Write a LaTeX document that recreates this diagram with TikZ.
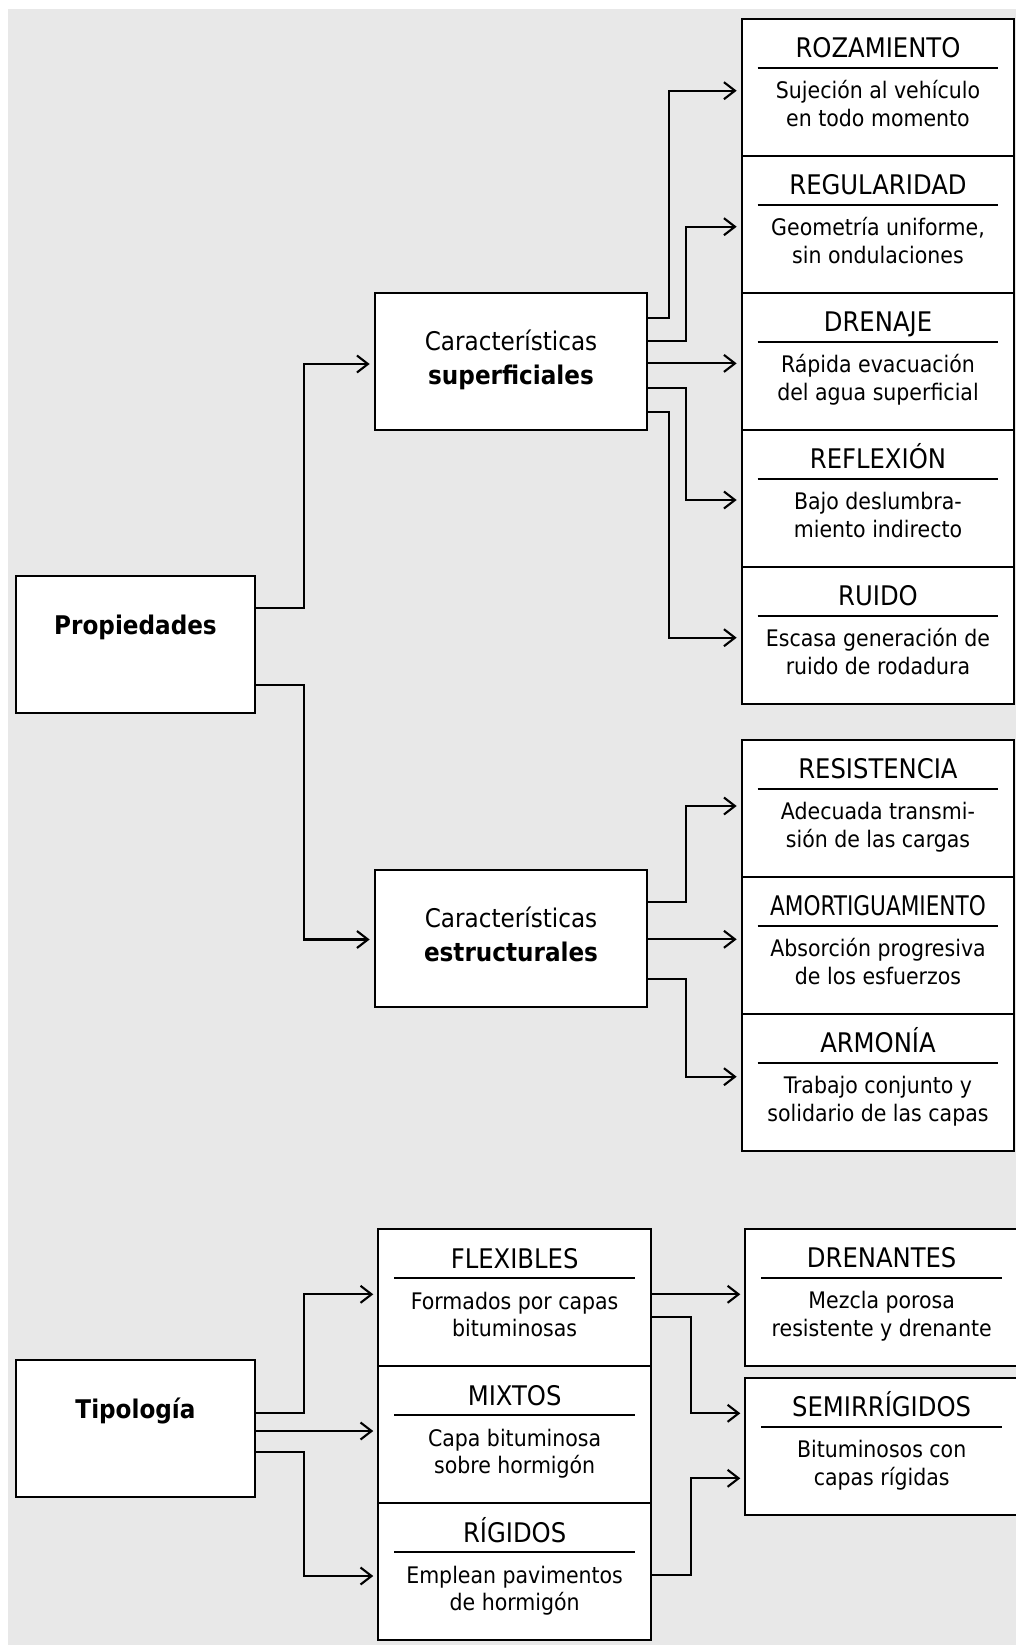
\documentclass[tikz,border=0pt]{standalone}
\usepackage{fontspec}
\setmainfont{DejaVu Sans Condensed}
\usetikzlibrary{arrows.meta,positioning}

\definecolor{fondo}{HTML}{E8E8E8}

% box with a title, a rule and two lines of text
\newcommand{\ficha}[4]{%
  \node[titulo] (#1-t) at ([yshift=-40pt]#1.north) {#2};
  \draw[regla] ([xshift=17pt,yshift=-50pt]#1.north west) -- ([xshift=-17pt,yshift=-50pt]#1.north east);
  \node[texto] (#1-a) at ([yshift=-81pt]#1.north) {#3};
  \node[texto] (#1-b) at ([yshift=-108.5pt]#1.north) {#4};
}

\begin{document}
\begin{tikzpicture}[
    x=1pt,y=-1pt,node distance=137pt,on grid,
    caja/.style={draw=black,line width=2.1pt,fill=white,inner sep=0pt,
        minimum width=272.6pt,minimum height=137pt},
    raiz/.style={caja,minimum width=239pt},
    titulo/.style={anchor=base,inner sep=0pt,font=\fontsize{27}{30}\selectfont},
    texto/.style={anchor=base,inner sep=0pt,font=\fontsize{22.8}{27}\selectfont},
    medio/.style={anchor=base,inner sep=0pt,font=\fontsize{25.7}{30}\selectfont},
    negrita/.style={medio,font=\fontsize{25.7}{30}\selectfont\bfseries},
    regla/.style={line width=1.9pt},
    flecha/.style={line width=2.1pt,-{Straight Barb[length=11pt,width=17pt]},shorten >=4pt}
]
 \useasboundingbox (0,0) rectangle (1016,1645);
 \fill[white] (0,0) rectangle (1016,1645);
 \fill[fondo] (8,9) rectangle (1016,1645);

 % Propiedades
 \node[raiz] (prop) at (135.5,644.5) {};
 \node[negrita] (prop-t) at ([yshift=-60pt]prop.north) {Propiedades};

 \node[caja] (sup) at (511,361.4) {};
 \node[medio] (sup-a) at ([yshift=-59pt]sup.north) {Características};
 \node[negrita] (sup-b) at ([yshift=-92.3pt]sup.north) {superficiales};

 \node[caja] (est) at (511,938.5) {};
 \node[medio] (est-a) at ([yshift=-59pt]est.north) {Características};
 \node[negrita] (est-b) at ([yshift=-92.3pt]est.north) {estructurales};

 \node[caja] (roz) at (878,87.5) {};
 \node[caja] (reg) [below=of roz] {};
 \node[caja] (dre) [below=of reg] {};
 \node[caja] (ref) [below=of dre] {};
 \node[caja] (rui) [below=of ref] {};
 \ficha{roz}{ROZAMIENTO}{Sujeción al vehículo}{en todo momento}
 \ficha{reg}{REGULARIDAD}{Geometría uniforme,}{sin ondulaciones}
 \ficha{dre}{DRENAJE}{Rápida evacuación}{del agua superficial}
 \ficha{ref}{REFLEXIÓN}{Bajo deslumbra-}{miento indirecto}
 \ficha{rui}{RUIDO}{Escasa generación de}{ruido de rodadura}

 \node[caja] (res) at (878,808.5) {};
 \node[caja] (amo) [below=of res] {};
 \node[caja] (arm) [below=of amo] {};
 \ficha{res}{RESISTENCIA}{Adecuada transmi-}{sión de las cargas}
 \ficha{amo}{\scalebox{0.89}[1]{AMORTIGUAMIENTO}}{Absorción progresiva}{de los esfuerzos}
 \ficha{arm}{ARMONÍA}{Trabajo conjunto y}{solidario de las capas}

 \draw[flecha] ([yshift=36.4pt]prop.east) -- ++(47.7,0) |- ([yshift=-2.6pt]sup.west);
 \draw[flecha] ([yshift=-40.3pt]prop.east) -- ++(47.7,0) |- ([yshift=-1pt]est.west);

 \draw[flecha] ([yshift=43pt]sup.east) -- ++(21,0) |- ([yshift=-3.2pt]roz.west);
 \draw[flecha] ([yshift=20.7pt]sup.east) -- ++(37.7,0) |- ([yshift=-2.2pt]reg.west);
 \draw[flecha] ([yshift=-2pt]sup.east) -- ([yshift=-2pt]sup.east -| dre.west);
 \draw[flecha] ([yshift=-27pt]sup.east) -- ++(37.7,0) |- ([yshift=-1.5pt]ref.west);
 \draw[flecha] ([yshift=-50.3pt]sup.east) -- ++(21,0) |- ([yshift=-2.2pt]rui.west);

 \draw[flecha] ([yshift=36.2pt]est.east) -- ++(38,0) |- ([yshift=2.5pt]res.west);
 \draw[flecha] ([yshift=-0.8pt]est.east) -- ([yshift=-0.8pt]est.east -| amo.west);
 \draw[flecha] ([yshift=-40.8pt]est.east) -- ++(38,0) |- ([yshift=5.8pt]arm.west);

 % Tipologia
 \node[raiz] (tip) at (135.5,1428.3) {};
 \node[negrita] (tip-t) at ([yshift=-60pt]tip.north) {Tipología};

 \node[caja,minimum width=272.7pt] (flex) at (514.65,1297.8) {};
 \node[caja,minimum width=272.7pt] (mix) [below=of flex] {};
 \node[caja,minimum width=272.7pt] (rig) [below=of mix] {};
 \ficha{flex}{FLEXIBLES}{Formados por capas}{bituminosas}
 \ficha{mix}{MIXTOS}{Capa bituminosa}{sobre hormigón}
 \ficha{rig}{RÍGIDOS}{Emplean pavimentos}{de hormigón}

 \node[caja] (dren) at (881.65,1297.5) {};
 \node[caja] (semi) at (881.65,1446.2) {};
 \ficha{dren}{DRENANTES}{Mezcla porosa}{resistente y drenante}
 \ficha{semi}{SEMIRRÍGIDOS}{Bituminosos con}{capas rígidas}

 \draw[flecha] ([yshift=15pt]tip.east) -- ++(47.7,0) |- ([yshift=3.5pt]flex.west);
 \draw[flecha] ([yshift=-2.7pt]tip.east) -- ([yshift=-2.7pt]tip.east -| mix.west);
 \draw[flecha] ([yshift=-23.4pt]tip.east) -- ++(47.7,0) |- ([yshift=-4.2pt]rig.west);

 \draw[flecha] ([yshift=3.5pt]flex.east) -- ([yshift=3.5pt]flex.east -| dren.west);
 \draw[flecha] ([yshift=-18.9pt]flex.east) -- ++(39,0) |- ([yshift=32.9pt]semi.west);
 \draw[flecha] ([yshift=-3.2pt]rig.east) -- ++(39,0) |- ([yshift=-32.1pt]semi.west);
\end{tikzpicture}
\end{document}
